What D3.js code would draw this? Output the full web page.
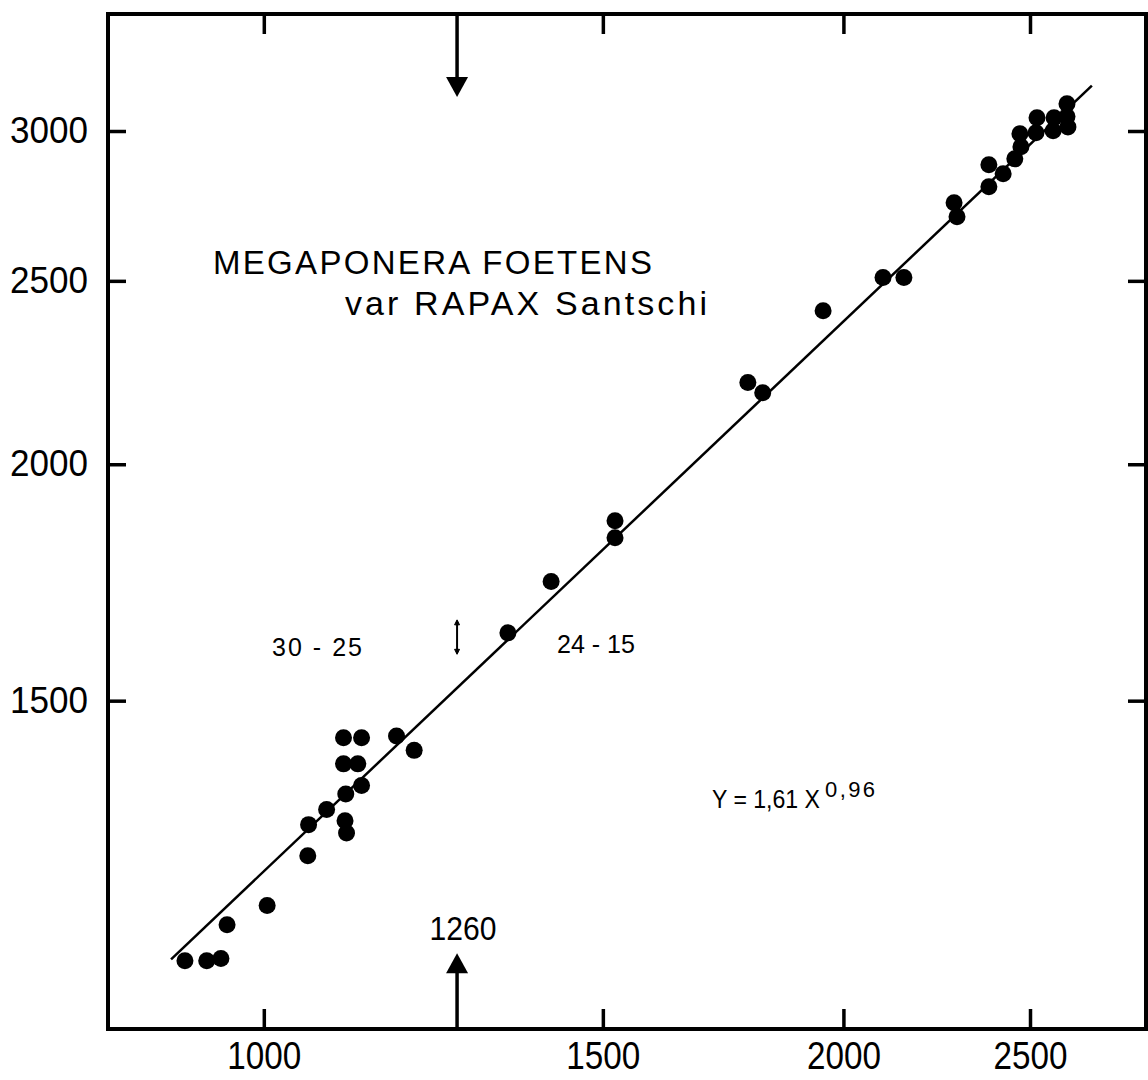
<!DOCTYPE html>
<html>
<head>
<meta charset="utf-8">
<script src="https://cdn.jsdelivr.net/npm/d3@7/dist/d3.min.js"></script>
<style>
  body { margin: 0; background: #fff; }
  text { font-family: "Liberation Sans", Arial, sans-serif; fill: #000; }
</style>
</head>
<body>
<div id="chart"></div>
<script>
const pointsX = [910, 934, 950, 957, 1004, 1054, 1055, 1078, 1103, 1102, 1104, 1124, 1100, 1119, 1100, 1124, 1172, 1197,
    1339, 1410, 1522, 1522, 1784, 1816, 1952, 2097, 2150,
    2283, 2291, 2380, 2421, 2380, 2455, 2470, 2473, 2518, 2521, 2570, 2573, 2613, 2616, 2613];
const pointsY = [1093, 1093, 1096, 1142, 1169, 1242, 1290, 1314, 1339, 1296, 1277, 1353, 1389, 1389, 1434, 1434, 1437, 1412,
    1629, 1734, 1867, 1829, 2209, 2182, 2411, 2510, 2510,
    2749, 2703, 2879, 2848, 2803, 2900, 2990, 2943, 2994, 3049, 3001, 3049, 3101, 3015, 3053];

// fitted line Y = 1,61 X^0,96 (end points as drawn)
const fitX = [895, 2692];
const fitY = [1095, 3170];

const xTicks = [1000, 1500, 2000, 2500];
const yTicks = [1500, 2000, 2500, 3000];

const breakX = 1260;

const width = 1148;
const height = 1080;
const plotLeft = 108, plotTop = 14, plotRight = 1146, plotBottom = 1029;

const svg = d3.select('#chart')
    .append('svg')
    .attr('width', width)
    .attr('height', height);

const x = d3.scaleLog().domain([830, 2872]).range([plotLeft, plotRight]);
const y = d3.scaleLog().domain([1006, 3459]).range([plotBottom, plotTop]);

function styleAxis(g, size, len) {
    g.select('.domain').remove();
    g.selectAll('.tick line').attr('stroke', '#000').attr('stroke-width', 3.5);
    if (size) {
        g.selectAll('.tick text')
            .style('font-size', size + 'px')
            .attr('fill', '#000')
            .attr('textLength', len)
            .attr('lengthAdjust', 'spacingAndGlyphs');
    } else {
        g.selectAll('.tick text').remove();
    }
}

svg.append('g')
    .attr('transform', `translate(0,${plotBottom})`)
    .call(d3.axisBottom(x).tickValues(xTicks).tickFormat(d3.format('d')).tickSizeInner(-20).tickSizeOuter(0).tickPadding(13))
    .call(g => styleAxis(g, 38, 74));

svg.append('g')
    .attr('transform', `translate(0,${plotTop})`)
    .call(d3.axisTop(x).tickValues(xTicks).tickSizeInner(-20).tickSizeOuter(0))
    .call(g => styleAxis(g, 0));

svg.append('g')
    .attr('transform', `translate(${plotLeft},0)`)
    .call(d3.axisLeft(y).tickValues(yTicks).tickFormat(d3.format('d')).tickSizeInner(-18).tickSizeOuter(0).tickPadding(20))
    .call(g => styleAxis(g, 36, 78));

svg.append('g')
    .attr('transform', `translate(${plotRight},0)`)
    .call(d3.axisRight(y).tickValues(yTicks).tickSizeInner(-18).tickSizeOuter(0))
    .call(g => styleAxis(g, 0));

// frame
svg.append('rect')
    .attr('x', plotLeft).attr('y', plotTop)
    .attr('width', plotRight - plotLeft).attr('height', plotBottom - plotTop)
    .attr('fill', 'none')
    .attr('stroke', '#000')
    .attr('stroke-width', 4);

// regression line
svg.append('path')
    .datum(d3.zip(fitX, fitY))
    .attr('d', d3.line().x(d => x(d[0])).y(d => y(d[1])))
    .attr('fill', 'none')
    .attr('stroke', '#000')
    .attr('stroke-width', 2.5);

// points
svg.append('g')
    .selectAll('circle')
    .data(d3.zip(pointsX, pointsY))
    .join('circle')
    .attr('cx', d => x(d[0]))
    .attr('cy', d => y(d[1]))
    .attr('r', 8.5)
    .attr('fill', '#000');

// arrows at 1260
const bx = x(breakX);
const headW = 11, headH = 20;

// top arrow, pointing down
const topTip = y(3127);
svg.append('line')
    .attr('x1', bx).attr('x2', bx)
    .attr('y1', plotTop).attr('y2', topTip - headH + 2)
    .attr('stroke', '#000').attr('stroke-width', 3.5);
svg.append('path')
    .attr('d', `M${bx - headW},${topTip - headH}L${bx + headW},${topTip - headH}L${bx},${topTip}Z`)
    .attr('fill', '#000');

// bottom arrow, pointing up
const botTip = y(1103);
svg.append('line')
    .attr('x1', bx).attr('x2', bx)
    .attr('y1', plotBottom).attr('y2', botTip + headH - 2)
    .attr('stroke', '#000').attr('stroke-width', 3.5);
svg.append('path')
    .attr('d', `M${bx - headW},${botTip + headH}L${bx + headW},${botTip + headH}L${bx},${botTip}Z`)
    .attr('fill', '#000');

svg.append('text')
    .attr('x', bx + 6).attr('y', botTip - 13)
    .attr('text-anchor', 'middle')
    .attr('textLength', 67)
    .attr('lengthAdjust', 'spacingAndGlyphs')
    .style('font-size', '33px')
    .text('1260');

// small double arrow
const dTop = y(1653), dBot = y(1589);
svg.append('line')
    .attr('x1', bx).attr('x2', bx)
    .attr('y1', dTop).attr('y2', dBot)
    .attr('stroke', '#000').attr('stroke-width', 2);
svg.append('path')
    .attr('d', `M${bx - 2.5},${dTop + 4}L${bx + 2.5},${dTop + 4}L${bx},${dTop - 1}Z M${bx - 2.5},${dBot - 4}L${bx + 2.5},${dBot - 4}L${bx},${dBot + 1}Z`)
    .attr('fill', '#000').attr('stroke', '#000').attr('stroke-width', 1);

// labels
function label(tx, ty, size, str, len, adjust) {
    return svg.append('text')
        .attr('x', tx).attr('y', ty)
        .style('font-size', size + 'px')
        .attr('textLength', len)
        .attr('lengthAdjust', adjust || 'spacing')
        .text(str);
}

label(213, 274, 33, 'MEGAPONERA FOETENS', 439);
label(345, 315, 34, 'var RAPAX Santschi', 362);
label(272, 656, 25, '30 - 25', 90);
label(557, 653, 25, '24 - 15', 78, 'spacingAndGlyphs');
label(712, 808, 25, 'Y = 1,61 X', 108, 'spacingAndGlyphs');
label(825, 797, 22, '0,96', 50);
</script>
</body>
</html>
